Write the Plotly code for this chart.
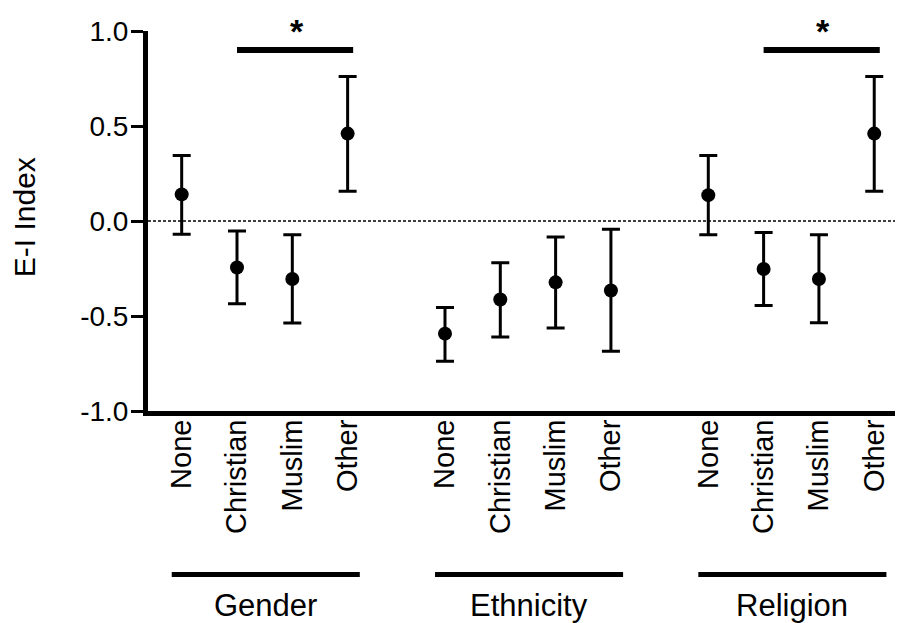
import plotly.graph_objects as go

# ---- data ----
categories = ["None", "Christian", "Muslim", "Other"]
groups = ["Gender", "Ethnicity", "Religion"]

gender_mean = [0.14, -0.245, -0.305, 0.46]
gender_upper = [0.345, -0.052, -0.073, 0.76]
gender_lower = [-0.07, -0.436, -0.537, 0.157]

ethnicity_mean = [-0.593, -0.413, -0.323, -0.366]
ethnicity_upper = [-0.455, -0.22, -0.084, -0.043]
ethnicity_lower = [-0.738, -0.61, -0.563, -0.686]

religion_mean = [0.136, -0.253, -0.305, 0.46]
religion_upper = [0.345, -0.061, -0.073, 0.76]
religion_lower = [-0.073, -0.445, -0.536, 0.157]

y_ticks = [-1.0, -0.5, 0.0, 0.5, 1.0]
y_ticktext = ["-1.0", "-0.5", "0.0", "0.5", "1.0"]

group_offsets = [0.0, 4.76, 9.52]
means = [gender_mean, ethnicity_mean, religion_mean]
uppers = [gender_upper, ethnicity_upper, religion_upper]
lowers = [gender_lower, ethnicity_lower, religion_lower]
significant = [True, False, True]  # Christian vs Other

FONT = "Arial, Liberation Sans, sans-serif"

fig = go.Figure()
tickvals, ticktext = [], []
for g, off in enumerate(group_offsets):
    xs = [off + i for i in range(len(categories))]
    tickvals += xs
    ticktext += categories
    m, u, l = means[g], uppers[g], lowers[g]
    fig.add_trace(go.Scatter(
        x=xs, y=m, mode="markers",
        marker=dict(color="black", size=14),
        error_y=dict(type="data", symmetric=False,
                     array=[u[i] - m[i] for i in range(4)],
                     arrayminus=[m[i] - l[i] for i in range(4)],
                     color="black", thickness=3, width=9),
        showlegend=False, cliponaxis=False,
    ))

shapes = []
annotations = []
# dashed zero line
shapes.append(dict(type="line", xref="paper", yref="y", x0=0, x1=1, y0=0, y1=0,
                   line=dict(color="black", width=1.5, dash="3px,2px"), layer="below"))
for g, off in enumerate(group_offsets):
    # group underline + label
    shapes.append(dict(type="line", xref="x", yref="paper",
                       x0=off - 0.18, x1=off + 3.22, y0=-0.43, y1=-0.43,
                       line=dict(color="black", width=5)))
    annotations.append(dict(text=groups[g], xref="x", yref="paper",
                            x=off + 1.52, y=-0.513, showarrow=False,
                            xanchor="center", yanchor="middle",
                            font=dict(size=31, color="black", family=FONT)))
    if significant[g]:
        shapes.append(dict(type="line", xref="x", yref="y",
                           x0=off + 1.0, x1=off + 3.1, y0=0.9, y1=0.9,
                           line=dict(color="black", width=6)))
        annotations.append(dict(text="<b>*</b>", xref="x", yref="y",
                                x=off + 2.08, y=1.0, showarrow=False,
                                xanchor="center", yanchor="middle",
                                font=dict(size=34, color="black", family=FONT)))

annotations.append(dict(text="E-I Index", xref="paper", yref="y", x=0, y=0.02,
                        xshift=-124, textangle=-90, showarrow=False,
                        xanchor="center", yanchor="middle",
                        font=dict(size=30, color="black", family=FONT)))

fig.update_layout(
    width=895, height=615,
    margin=dict(l=140, r=0, t=23, b=212),
    paper_bgcolor="white", plot_bgcolor="white",
    font=dict(family=FONT, color="black"),
    shapes=shapes, annotations=annotations,
    xaxis=dict(range=[-0.609, 13.04], tickvals=tickvals, ticktext=ticktext,
               tickangle=-90, tickfont=dict(size=29, family=FONT),
               showline=True, linecolor="black", linewidth=5,
               showgrid=False, zeroline=False, ticks="", ticklen=0,
               ticklabelstandoff=-8),
    yaxis=dict(range=[-1, 1], tickvals=y_ticks, ticktext=y_ticktext,
               tickfont=dict(size=28, family=FONT),
               showline=True, linecolor="black", linewidth=5,
               ticks="outside", ticklen=12, tickwidth=3, tickcolor="black",
               ticklabelstandoff=-3,
               showgrid=False, zeroline=False),
)

fig.write_html("out.html")
